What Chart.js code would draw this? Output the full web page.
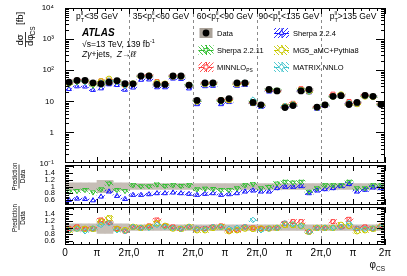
<!DOCTYPE html>
<html><head><meta charset="utf-8">
<script src="https://cdn.jsdelivr.net/npm/chart.js@4.4.0/dist/chart.umd.min.js"></script>
<style>html,body{margin:0;padding:0;background:#fff;}canvas{display:block;}</style>
</head><body>
<canvas id="c" width="407" height="276"></canvas>
<script>
// ---------------- data ----------------
const binsPerRegion = 8;
const regionLabels = [
  [{t:'p'},{sub:'T',sup:'ll'},{t:'<35 GeV'}],
  [{t:'35<p'},{sub:'T',sup:'ll'},{t:'<60 GeV'}],
  [{t:'60<p'},{sub:'T',sup:'ll'},{t:'<90 GeV'}],
  [{t:'90<p'},{sub:'T',sup:'ll'},{t:'<135 GeV'}],
  [{t:'p'},{sub:'T',sup:'ll'},{t:'>135 GeV'}]
];
const xTickLabels = ['0','π','2π,0','π','2π,0','π','2π,0','π','2π,0','π','2π'];
const mainTickLabels = {'-1':'10⁻¹','0':'1','1':'10','2':'10²','3':'10³','4':'10⁴'};
const ratioTickLabels = ['0.6','0.8','1','1.2','1.4'];

// data cross-section [fb] per bin
const dataXsec = [
  41, 47, 47, 39, 37, 41, 46, 37,
  36.6, 65, 65, 35, 35, 65, 65, 33,
  10.7, 39, 39, 10.7, 12.2, 39, 39, 9.2,
  7.7, 24, 21.6, 6.3, 7.3, 21.6, 24, 6.5,
  7.7, 14.4, 15.2, 7.9, 9.2, 15.6, 14.4, 7.9
];
// relative data uncertainty
const dataRelUnc = [
  0.11, 0.11, 0.11, 0.11, 0.18, 0.18, 0.11, 0.11,
  0.085, 0.085, 0.085, 0.085, 0.085, 0.085, 0.085, 0.085,
  0.085, 0.085, 0.085, 0.085, 0.085, 0.085, 0.085, 0.085,
  0.085, 0.085, 0.085, 0.085, 0.085, 0.085, 0.085, 0.085,
  0.085, 0.085, 0.085, 0.085, 0.085, 0.085, 0.085, 0.085
];
// prediction / data ratios
const ratioSherpa224 = [
  0.60, 0.64, 0.63, 0.59, 0.70, 0.85, 0.72, 0.63,
  0.75, 0.75, 0.77, 0.80, 0.80, 0.82, 0.80, 0.78,
  0.75, 0.78, 0.80, 0.75, 0.77, 0.80, 0.85, 0.88,
  0.85, 0.85, 0.95, 0.99, 0.99, 1.01, 0.80, 0.88,
  0.92, 0.95, 1.01, 1.07, 0.85, 0.90, 0.97, 0.95
];
const ratioSherpa2211 = [
  0.85, 0.87, 0.90, 0.83, 0.92, 1.09, 0.90, 0.87,
  1.04, 1.01, 1.01, 1.06, 1.02, 1.04, 1.02, 1.04,
  0.92, 0.94, 0.93, 0.90, 0.90, 0.95, 1.04, 1.07,
  0.95, 0.99, 1.09, 1.14, 1.12, 1.14, 0.85, 0.95,
  1.04, 1.04, 1.04, 1.14, 0.95, 0.95, 1.04, 1.04
];
const ratioMinnlo = [
  0.97, 1.02, 0.96, 0.97, 1.23, 1.15, 0.97, 0.89,
  1.02, 0.99, 1.05, 1.23, 1.05, 1.02, 0.96, 1.02,
  0.96, 0.97, 1.02, 1.05, 0.89, 0.92, 1.02, 0.99,
  0.97, 0.97, 0.99, 1.13, 1.18, 1.18, 0.87, 0.99,
  0.99, 1.18, 1.02, 1.25, 0.97, 1.02, 0.97, 1.05
];
const ratioMg5 = [
  0.92, 0.97, 0.96, 0.96, 1.18, 1.28, 0.96, 0.92,
  1.02, 0.99, 1.02, 1.13, 1.05, 0.97, 0.96, 1.02,
  0.92, 0.92, 0.99, 1.02, 0.89, 0.92, 0.97, 0.96,
  0.97, 0.97, 0.99, 1.08, 1.08, 1.05, 0.87, 0.99,
  0.99, 0.99, 1.08, 1.05, 0.89, 0.92, 0.96, 1.02
];
const ratioMatrix = [
  0.92, 0.96, 0.89, 0.97, 1.08, 1.13, 0.92, 0.89,
  1.02, 0.99, 0.99, 1.08, 1.02, 0.99, 0.96, 1.02,
  0.97, 0.96, 1.02, 1.02, 0.96, 0.99, 1.02, 1.23,
  0.92, 0.97, 0.99, 1.13, 1.10, 1.05, 0.87, 0.99,
  0.99, 0.99, 1.02, 1.13, 0.97, 0.96, 0.97, 1.02
];
const relUncSherpa224 = 0.05, relUncSherpa2211 = 0.05, relUncMinnlo = 0.05, relUncMg5 = 0.07, relUncMatrix = 0.04;

// ---------------- styling helpers ----------------
const FONT = '"Liberation Sans", Arial, Helvetica, sans-serif';
const fnt = (size, style) => (style ? style + ' ' : '') + size + 'px ' + FONT;
const cnv = document.getElementById('c');
const mainCtx = cnv.getContext('2d');
function hatch(color, dir) {
  const c = document.createElement('canvas'); c.width = 4; c.height = 4;
  const g = c.getContext('2d'); g.strokeStyle = color; g.lineWidth = 0.9;
  g.beginPath();
  if (dir > 0) { g.moveTo(0,4); g.lineTo(4,0); g.moveTo(-1,1); g.lineTo(1,-1); g.moveTo(3,5); g.lineTo(5,3); }
  else { g.moveTo(0,0); g.lineTo(4,4); g.moveTo(-1,3); g.lineTo(1,5); g.moveTo(3,-1); g.lineTo(5,1); }
  g.stroke();
  return mainCtx.createPattern(c, 'repeat');
}

const series = [
  {name:[{t:'Sherpa 2.2.4'}], ratio: ratioSherpa224, unc: relUncSherpa224, color:'#1a1aff', style:'triangle', rot:0, panel:'r1', hatchDir:1},
  {name:[{t:'Sherpa 2.2.11'}], ratio: ratioSherpa2211, unc: relUncSherpa2211, color:'#33c033', style:'triangle', rot:180, panel:'r1', hatchDir:-1},
  {name:[{t:'MINNLO'},{sub:'PS'}], ratio: ratioMinnlo, unc: relUncMinnlo, color:'#ff4444', style:'rect', rot:0, panel:'r2', hatchDir:1},
  {name:[{t:'MG5_aMC+Pythia8'}], ratio: ratioMg5, unc: relUncMg5, color:'#c8c800', style:'circle', rot:0, panel:'r2', hatchDir:-1},
  {name:[{t:'MATRIX NNLO'}], ratio: ratioMatrix, unc: relUncMatrix, color:'#40c4cc', style:'rectRot', rot:0, panel:'r2', hatchDir:-1}
];
series.forEach(s => { s.pattern = hatch(s.color, s.hatchDir); });

const bandMain = '#b9b1a9', bandRatio = '#c6beb6';
const binX = i => i + 0.5;

// ---------------- datasets ----------------
const datasets = [];
datasets.push({type:'bar', yAxisID:'main', grouped:false, order:40, backgroundColor: bandMain, borderWidth:0,
  barPercentage:1, categoryPercentage:1,
  data: dataXsec.map((v,i) => ({x: binX(i), y: [v*(1-dataRelUnc[i]), v*(1+dataRelUnc[i])]}))});
['r1','r2'].forEach(p => datasets.push({type:'bar', yAxisID:p, grouped:false, order:40, backgroundColor: bandRatio, borderWidth:0,
  barPercentage:1, categoryPercentage:1,
  data: dataRelUnc.map((u,i) => ({x: binX(i), y: [1-u, 1+u]}))}));
series.forEach((s, k) => {
  datasets.push({type:'bar', yAxisID:'main', grouped:false, order:30-k, backgroundColor: s.pattern, borderWidth:0,
    barPercentage:1, categoryPercentage:1,
    data: s.ratio.map((r,i) => ({x: binX(i), y: [dataXsec[i]*r*(1-s.unc), dataXsec[i]*r*(1+s.unc)]}))});
  datasets.push({type:'bar', yAxisID:s.panel, grouped:false, order:30-k, backgroundColor: s.pattern, borderWidth:0,
    barPercentage:1, categoryPercentage:1,
    data: s.ratio.map((r,i) => ({x: binX(i), y: [r*(1-s.unc), r*(1+s.unc)]}))});
  const pt = {type:'scatter', showLine:false, order:10-k, pointStyle:s.style, rotation:s.rot, pointRadius:2.8,
    pointBorderWidth:1, borderColor:s.color, backgroundColor:'rgba(0,0,0,0)', pointBackgroundColor:'rgba(0,0,0,0)'};
  datasets.push(Object.assign({yAxisID:'main', data: s.ratio.map((r,i) => ({x: binX(i), y: dataXsec[i]*r}))}, pt));
  datasets.push(Object.assign({yAxisID:s.panel, data: s.ratio.map((r,i) => ({x: binX(i), y: r}))}, pt));
});
datasets.push({type:'scatter', yAxisID:'main', order:0, showLine:false, pointStyle:'circle', pointRadius:3.4,
  pointBorderWidth:0, backgroundColor:'#000', borderColor:'#000',
  data: dataXsec.map((v,i) => ({x: binX(i), y: v}))});

// ---------------- rich text ----------------
function richWidth(ctx, parts, size) {
  let w = 0;
  for (const p of parts) {
    if (p.sub !== undefined || p.sup !== undefined) {
      ctx.font = fnt(size*0.65);
      w += Math.max(p.sub ? ctx.measureText(p.sub).width : 0, p.sup ? ctx.measureText(p.sup).width : 0);
    } else {
      ctx.font = fnt(size, (p.i ? 'italic' : '') + (p.b ? ' bold' : ''));
      w += ctx.measureText(p.t).width;
    }
  }
  return w;
}
function drawRich(ctx, parts, x, y, size, align) {
  const w = richWidth(ctx, parts, size);
  let cx = align === 'center' ? x - w/2 : (align === 'right' ? x - w : x);
  ctx.textAlign = 'left'; ctx.textBaseline = 'alphabetic';
  for (const p of parts) {
    if (p.sub !== undefined || p.sup !== undefined) {
      ctx.font = fnt(size*0.65);
      let w1 = 0, w2 = 0;
      if (p.sub) { ctx.fillText(p.sub, cx, y + size*0.3); w1 = ctx.measureText(p.sub).width; }
      if (p.sup) { ctx.fillText(p.sup, cx, y - size*0.42); w2 = ctx.measureText(p.sup).width; }
      cx += Math.max(w1, w2);
    } else {
      ctx.font = fnt(size, (p.i ? 'italic' : '') + (p.b ? ' bold' : ''));
      ctx.fillText(p.t, cx, y);
      cx += ctx.measureText(p.t).width;
    }
  }
}

// ---------------- decoration plugin ----------------
const decor = {
  id: 'decor',
  afterDatasetsDraw(chart) {
    const {ctx, chartArea, scales} = chart;
    const L = chartArea.left, R = chartArea.right, xs = scales.x;
    ctx.save();
    ctx.strokeStyle = '#000'; ctx.lineWidth = 1;
    ['main','r1','r2'].forEach((id, k) => {
      const s = scales[id];
      const top = Math.round(s.top) + (k > 0 ? 1 : 0);
      const bot = Math.round(s.bottom) - (k < 2 ? 1 : 0);
      ctx.beginPath();
      ctx.rect(L + 0.5, top + 0.5, R - L - 1, bot - top - 1);
      let vals = [];
      if (id === 'main') {
        for (let e = -1; e <= 3; e++) for (let m = 1; m <= 9; m++) vals.push({v: m*Math.pow(10,e), major: m === 1});
        vals.push({v: 1e4, major: true});
      } else {
        for (let q = Math.ceil(s.min/0.05); q*0.05 <= s.max; q++) vals.push({v: q*0.05, major: q % 4 === 0});
      }
      vals.forEach(o => {
        const y = Math.round(s.getPixelForValue(o.v)) + 0.5;
        if (y < top || y > bot) return;
        const len = o.major ? (id === 'main' ? 9 : 8) : 4;
        ctx.moveTo(L, y); ctx.lineTo(L + len, y);
        ctx.moveTo(R, y); ctx.lineTo(R - len, y);
      });
      for (let i = 0; i <= xs.max; i++) {
        const x = Math.round(xs.getPixelForValue(i)) + 0.5;
        const len = i % 4 === 0 ? 6 : 3;
        ctx.moveTo(x, bot); ctx.lineTo(x, bot - len);
        ctx.moveTo(x, top); ctx.lineTo(x, top + len);
      }
      ctx.stroke();
    });
    ctx.restore();
  },
  afterDraw(chart) {
    const {ctx, chartArea, scales} = chart;
    const L = chartArea.left, T = scales.main.top, xs = scales.x;
    ctx.save();
    ctx.fillStyle = '#000';
    regionLabels.forEach((parts, r) => {
      const cx = xs.getPixelForValue(r*binsPerRegion + binsPerRegion/2);
      drawRich(ctx, parts, cx, T + 11, 8.5, 'center');
    });
    ctx.font = fnt(10, 'italic bold'); ctx.textAlign = 'left'; ctx.textBaseline = 'alphabetic';
    ctx.fillText('ATLAS', L + 17, T + 28);
    drawRich(ctx, [{t:'√s=13 TeV, 139 fb'},{sup:'-1'}], L + 17, T + 38.5, 8.5, 'left');
    drawRich(ctx, [{t:'Z', i:true},{t:'γ', i:true},{t:'+jets,  '},{t:'Z', i:true},{t:'→'},{t:'ℓℓ', i:true}], L + 17, T + 48.5, 8.5, 'left');
    const rows = [T + 25, T + 42, T + 59];
    const cols = [L + 141, L + 216.5];
    const txtX = [L + 152, L + 228];
    const entries = [
      {c:0, r:0, name:[{t:'Data'}], data:true},
      {c:1, r:0, s:series[0]},
      {c:0, r:1, s:series[1]},
      {c:1, r:1, s:series[3]},
      {c:0, r:2, s:series[2]},
      {c:1, r:2, s:series[4]}
    ];
    entries.forEach(e => {
      const cx = cols[e.c], cy = rows[e.r];
      const w = e.data ? 13 : 15, h = 10;
      if (e.data) {
        ctx.fillStyle = '#aaa299'; ctx.fillRect(cx - w/2, cy - h/2, w, h);
        ctx.fillStyle = '#000'; ctx.beginPath(); ctx.arc(cx, cy, 3.4, 0, Math.PI*2); ctx.fill();
      } else {
        ctx.fillStyle = e.s.pattern; ctx.fillRect(cx - w/2, cy - h/2, w, h);
        ctx.strokeStyle = e.s.color; ctx.lineWidth = 1;
        ctx.beginPath(); ctx.moveTo(cx - w/2, cy + 0.5); ctx.lineTo(cx + w/2, cy + 0.5);
        ctx.moveTo(cx + 0.5, cy - h/2); ctx.lineTo(cx + 0.5, cy + h/2); ctx.stroke();
        ctx.fillStyle = 'rgba(255,255,255,1)';
        Chart.helpers.drawPoint(ctx, {pointStyle: e.s.style, rotation: e.s.rot, radius: 2.8, borderWidth: 1}, cx, cy);
      }
      ctx.fillStyle = '#000';
      drawRich(ctx, e.data ? e.name : e.s.name, txtX[e.c], cy + 3, 7.5, 'left');
    });
    ctx.save();
    ctx.translate(25, T + 33);
    ctx.rotate(-Math.PI/2);
    ctx.fillStyle = '#000'; ctx.strokeStyle = '#000'; ctx.lineWidth = 0.8;
    ctx.font = fnt(9.5); ctx.textAlign = 'center'; ctx.textBaseline = 'alphabetic';
    ctx.fillText('dσ', 1, -2);
    ctx.beginPath(); ctx.moveTo(-6, 0.5); ctx.lineTo(9, 0.5); ctx.stroke();
    ctx.textAlign = 'left';
    ctx.fillText('dφ', -5, 7.5);
    ctx.font = fnt(6.5); ctx.fillText('CS', 5.5, 9.5);
    ctx.font = fnt(9.5); ctx.fillText('[fb]', 16, -2);
    ctx.restore();
    [['r1', 13], ['r2', 12.5]].forEach(([id, off]) => {
      const s = scales[id];
      ctx.save();
      ctx.translate(18.5, s.top + off);
      ctx.rotate(-Math.PI/2);
      ctx.fillStyle = '#000'; ctx.strokeStyle = '#000'; ctx.lineWidth = 0.7;
      ctx.font = fnt(6.3); ctx.textAlign = 'center'; ctx.textBaseline = 'alphabetic';
      ctx.fillText('Prediction', 0, -1.5);
      ctx.beginPath(); ctx.moveTo(-12, 0.5); ctx.lineTo(12, 0.5); ctx.stroke();
      ctx.fillText('Data', 0, 6.5);
      ctx.restore();
    });
    ctx.fillStyle = '#000';
    drawRich(ctx, [{t:'φ'},{sub:'CS'}], chartArea.right, 268, 10, 'right');
    ctx.restore();
  }
};

// ---------------- chart ----------------
const isPow10 = v => Math.abs(Math.log10(v) - Math.round(Math.log10(v))) < 1e-6;
const ratioTickCb = v => ratioTickLabels.find(l => Math.abs(parseFloat(l) - v) < 1e-6) || '';
const setRatioTicks = s => { s.ticks = ratioTickLabels.map(l => ({value: parseFloat(l)})); };
new Chart(cnv, {
  type: 'scatter',
  data: { datasets },
  options: {
    responsive: false, animation: false, devicePixelRatio: 1,
    layout: { padding: { left: 0, right: 22, top: 8, bottom: 0 } },
    plugins: { legend: { display: false }, tooltip: { enabled: false } },
    scales: {
      x: {
        type: 'linear', min: 0, max: 40, offset: false,
        grid: { offset: false, drawTicks: false, lineWidth: 1,
          color: c => (c.tick && c.tick.value % 8 === 0 && c.tick.value > 0 && c.tick.value < 40) ? '#8a8a8a' : 'rgba(0,0,0,0)' },
        border: { display: false, dash: [3, 3] },
        ticks: { stepSize: 4, autoSkip: false, maxRotation: 0, minRotation: 0, padding: 2, color: '#000',
          font: { size: 10, family: FONT },
          callback: v => xTickLabels[Math.round(v / 4)] },
        afterFit: s => { s.height = 31; }
      },
      r2: {
        type: 'linear', position: 'left', stack: 'panels', stackWeight: 39.5, min: 0.47, max: 1.67, beginAtZero: false,
        grid: { display: false }, border: { display: false },
        ticks: { autoSkip: false, padding: 2, color: '#000', font: { size: 7.5, family: FONT }, callback: ratioTickCb },
        afterBuildTicks: setRatioTicks,
        afterFit: s => { s.width = 65; }
      },
      r1: {
        type: 'linear', position: 'left', stack: 'panels', stackWeight: 42, min: 0.44, max: 1.68, beginAtZero: false,
        grid: { display: false }, border: { display: false },
        ticks: { autoSkip: false, padding: 2, color: '#000', font: { size: 7.5, family: FONT }, callback: ratioTickCb },
        afterBuildTicks: setRatioTicks,
        afterFit: s => { s.width = 65; }
      },
      main: {
        type: 'logarithmic', position: 'left', stack: 'panels', stackWeight: 155.5, min: 0.1, max: 1e4,
        grid: { display: false }, border: { display: false },
        ticks: { autoSkip: false, padding: 3, color: '#000', font: { size: 8, family: FONT },
          callback: v => isPow10(v) ? mainTickLabels[String(Math.round(Math.log10(v)))] : '' },
        afterFit: s => { s.width = 65; }
      }
    }
  },
  plugins: [decor]
});
</script>
</body></html>
